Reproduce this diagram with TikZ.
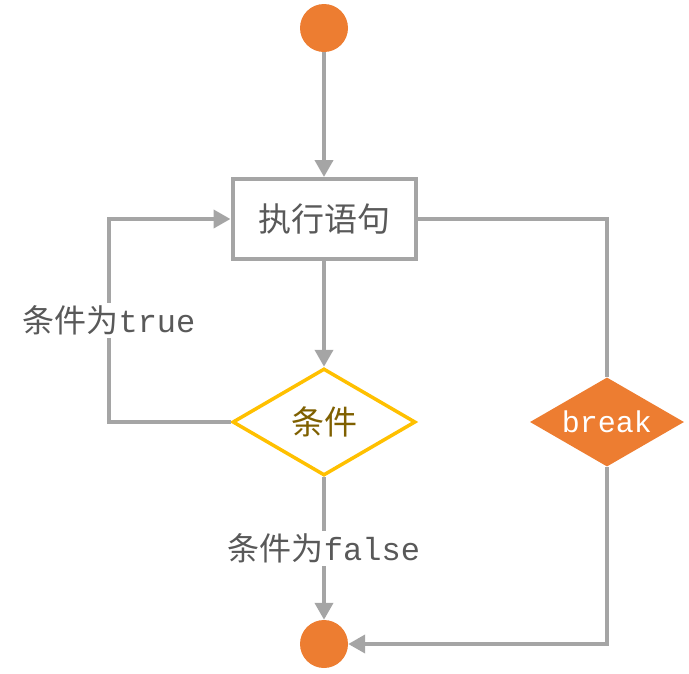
\documentclass[tikz,border=0pt]{standalone}
\usepackage{fontspec}
\setmainfont{Liberation Mono}
\newfontfamily\cjk{Noto Sans CJK SC}
\usetikzlibrary{shapes.geometric,arrows.meta}
\definecolor{myorange}{HTML}{ED7D31}
\definecolor{myyellow}{HTML}{FFC000}
\definecolor{mygray}{HTML}{A5A5A5}
\definecolor{mytext}{HTML}{595959}
\definecolor{mycond}{HTML}{7F6000}
\begin{document}
\begin{tikzpicture}[x=1pt,y=-1pt,
  circ/.style={circle,fill=myorange,minimum size=48pt,inner sep=0pt},
  box/.style={draw=mygray,line width=4pt,fill=white,minimum width=183pt,minimum height=80pt,inner sep=0pt,font=\fontsize{33}{36}\selectfont\cjk,text=mytext},
  cond/.style={diamond,draw=myyellow,line width=3.5pt,fill=white,minimum width=183pt,minimum height=107pt,inner sep=0pt,font=\fontsize{33}{36}\selectfont\cjk,text=mycond},
  brk/.style={diamond,fill=myorange,minimum width=154pt,minimum height=89pt,inner sep=0pt,
    label={[font=\fontsize{30}{32}\selectfont,text=white]center:break}},
  lbl/.style={fill=white,inner sep=3pt,font=\fontsize{32}{36}\selectfont,text=mytext},
  line/.style={draw=mygray,line width=4pt},
  arr/.style={line,-{Triangle[length=17pt,width=18pt]}}]
\useasboundingbox (0,0) rectangle (689,673);
\node[circ] (start) at (324,28) {};
\node[box] (exec) at (324,219) {执行语句};
\node[cond] (cond) at (324,422) {条件};
\node[brk] (brk) at (607,422) {};
\node[circ] (end) at (324,644) {};
\coordinate (lc) at (109,219);
\draw[arr] (start) -- (exec);
\draw[arr] (exec) -- (cond);
\draw[arr] (cond.west) -| node[lbl,pos=0.75] {{\cjk 条件为}true} (lc) -- (exec.west);
\draw[arr] (cond.south) -- node[lbl] {{\cjk 条件为}false} (end);
\draw[line] (exec.east) -| (brk.north);
\draw[arr] (brk.south) |- (end.east);
\end{tikzpicture}
\end{document}
